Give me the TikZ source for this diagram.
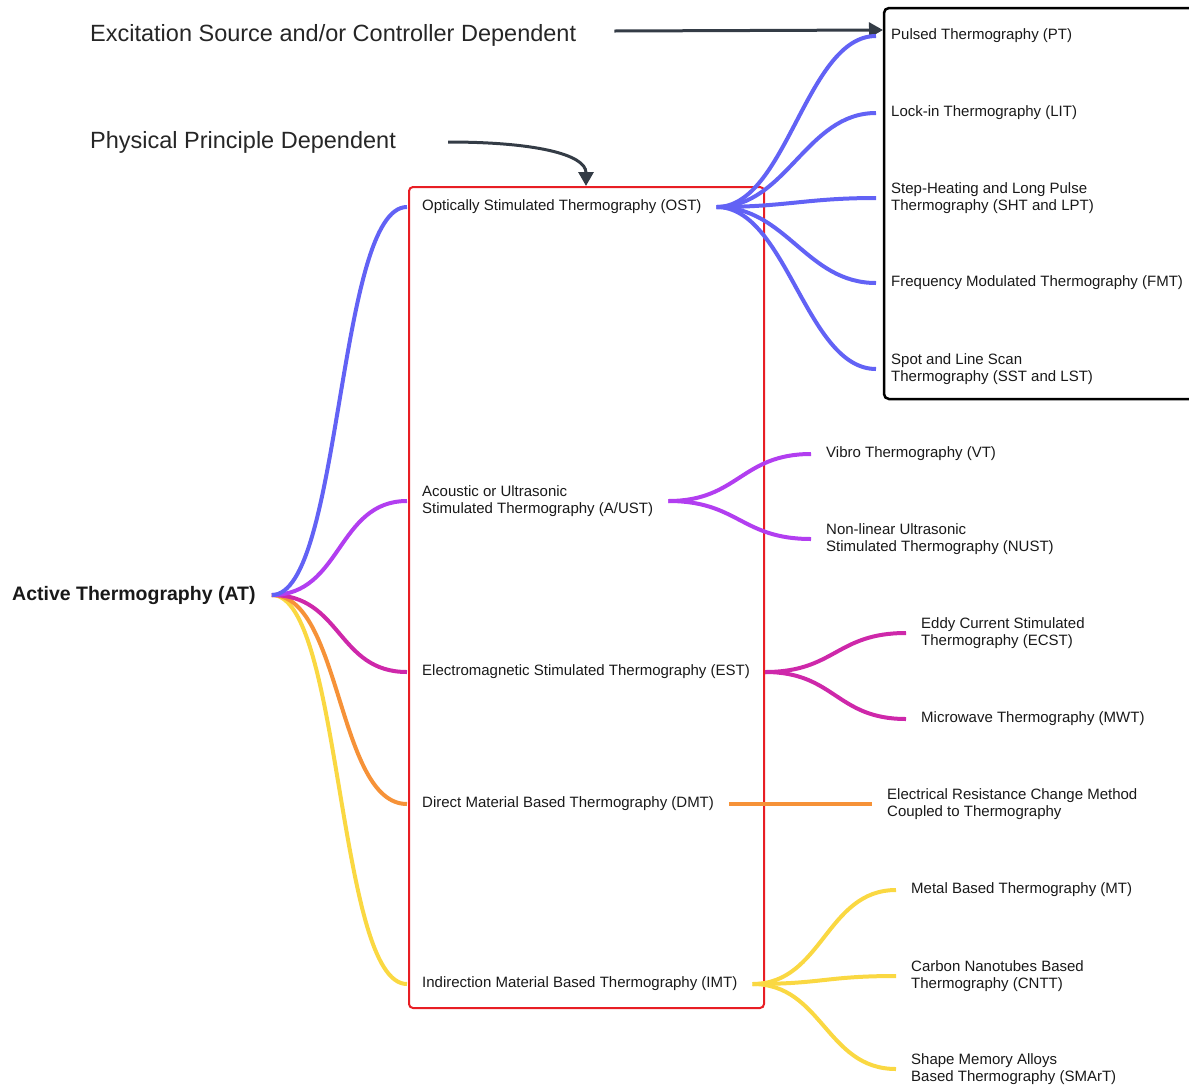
\documentclass[tikz,border=0pt]{standalone}
\usepackage{fontspec}
\setmainfont{Liberation Sans}
\usetikzlibrary{arrows.meta}
\definecolor{optic}{RGB}{98,98,245}
\definecolor{acoustic}{RGB}{178,62,240}
\definecolor{emag}{RGB}{206,40,170}
\definecolor{direct}{RGB}{246,146,56}
\definecolor{indirect}{RGB}{250,216,66}
\definecolor{frame}{RGB}{232,30,36}
\definecolor{note}{RGB}{52,60,70}

\begin{document}
\begin{tikzpicture}[x=1pt, y=-1pt,
    item/.style={anchor=west, inner xsep=15pt, inner ysep=1pt, align=left, yshift=-1pt,
                 text=black!90, font=\fontsize{15}{17.5}\selectfont},
    root/.style={anchor=west, inner xsep=16pt, inner ysep=1pt, yshift=-1pt,
                 text=black!90, font=\fontsize{19.5}{22}\selectfont\bfseries},
    head/.style={anchor=west, inner sep=0pt, text=black!85,
                 font=\fontsize{23.5}{28}\selectfont},
    link/.style={line width=4pt},
    pointer/.style={line width=3pt, draw=note, -{Triangle[width=15pt,length=14pt]}}]

    \useasboundingbox (0,0) rectangle (1189,1085);
    \clip (0,0) rectangle (1189,1085);

    % groups
    \draw[frame, line width=2pt, rounded corners=4pt] (409,187) rectangle (764,1008);
    \draw[black, line width=2.5pt, rounded corners=5pt] (884,8) rectangle (1205,399);

    \node[head] (exc) at (90,35) {Excitation Source and/or Controller Dependent};
    \node[head] (phy) at (90,142) {Physical Principle Dependent};
    \coordinate (exctip) at (883,30);
    \coordinate (phytip) at (586,186);

    \node[root] (at) at (-4,594) {Active Thermography (AT)};

    \node[item] (ost) at (407,206) {Optically Stimulated Thermography (OST)};
    \node[item] (ust) at (407,500) {Acoustic or Ultrasonic\\Stimulated Thermography (A/UST)};
    \node[item] (est) at (407,671) {Electromagnetic Stimulated Thermography (EST)};
    \node[item] (dmt) at (407,803) {Direct Material Based Thermography (DMT)};
    \node[item] (imt) at (407,983) {Indirection Material Based Thermography (IMT)};

    \node[item] (pt) at (876,35) {Pulsed Thermography (PT)};
    \node[item] (lit) at (876,112) {Lock-in Thermography (LIT)};
    \node[item] (sht) at (876,197) {Step-Heating and Long Pulse\\Thermography (SHT and LPT)};
    \node[item] (fmt) at (876,282) {Frequency Modulated Thermography (FMT)};
    \node[item] (sst) at (876,368) {Spot and Line Scan\\Thermography (SST and LST)};

    \node[item] (vt) at (811,453) {Vibro Thermography (VT)};
    \node[item] (nust) at (811,538) {Non-linear Ultrasonic\\Stimulated Thermography (NUST)};

    \node[item] (ecst) at (906,632) {Eddy Current Stimulated\\Thermography (ECST)};
    \node[item] (mwt) at (906,718) {Microwave Thermography (MWT)};

    \node[item] (erc) at (872,803) {Electrical Resistance Change Method\\Coupled to Thermography};

    \node[item] (mt) at (896,889) {Metal Based Thermography (MT)};
    \node[item] (cntt) at (896,975) {Carbon Nanotubes Based\\Thermography (CNTT)};
    \node[item] (smart) at (896,1068) {Shape Memory Alloys\\Based Thermography (SMArT)};

    \draw[pointer] ([xshift=38pt,yshift=4pt]exc.east) -- (exctip);
    \draw[pointer] ([xshift=52pt]phy.east) .. controls +(85,0) and +(0,-32) .. (phytip);

    \draw[link, indirect] (at.east) .. controls +(70,0) and +(-70,0) .. (imt.west);
    \draw[link, direct] (at.east) .. controls +(70,0) and +(-70,0) .. (dmt.west);
    \draw[link, emag] (at.east) .. controls +(70,0) and +(-70,0) .. (est.west);
    \draw[link, acoustic] (at.east) .. controls +(70,0) and +(-70,0) .. (ust.west);
    \draw[link, optic] (at.east) .. controls +(70,0) and +(-70,0) .. (ost.west);

    \foreach \leaf in {pt, lit, sht, fmt, sst}
        \draw[link, optic] (ost.east) .. controls +(70,0) and +(-70,0) .. (\leaf.west);
    \foreach \leaf in {vt, nust}
        \draw[link, acoustic] (ust.east) .. controls +(70,0) and +(-70,0) .. (\leaf.west);
    \foreach \leaf in {ecst, mwt}
        \draw[link, emag] (est.east) .. controls +(70,0) and +(-70,0) .. (\leaf.west);
    \draw[link, direct] (dmt.east) -- (erc.west);
    \foreach \leaf in {mt, cntt, smart}
        \draw[link, indirect] (imt.east) .. controls +(70,0) and +(-70,0) .. (\leaf.west);
\end{tikzpicture}
\end{document}
